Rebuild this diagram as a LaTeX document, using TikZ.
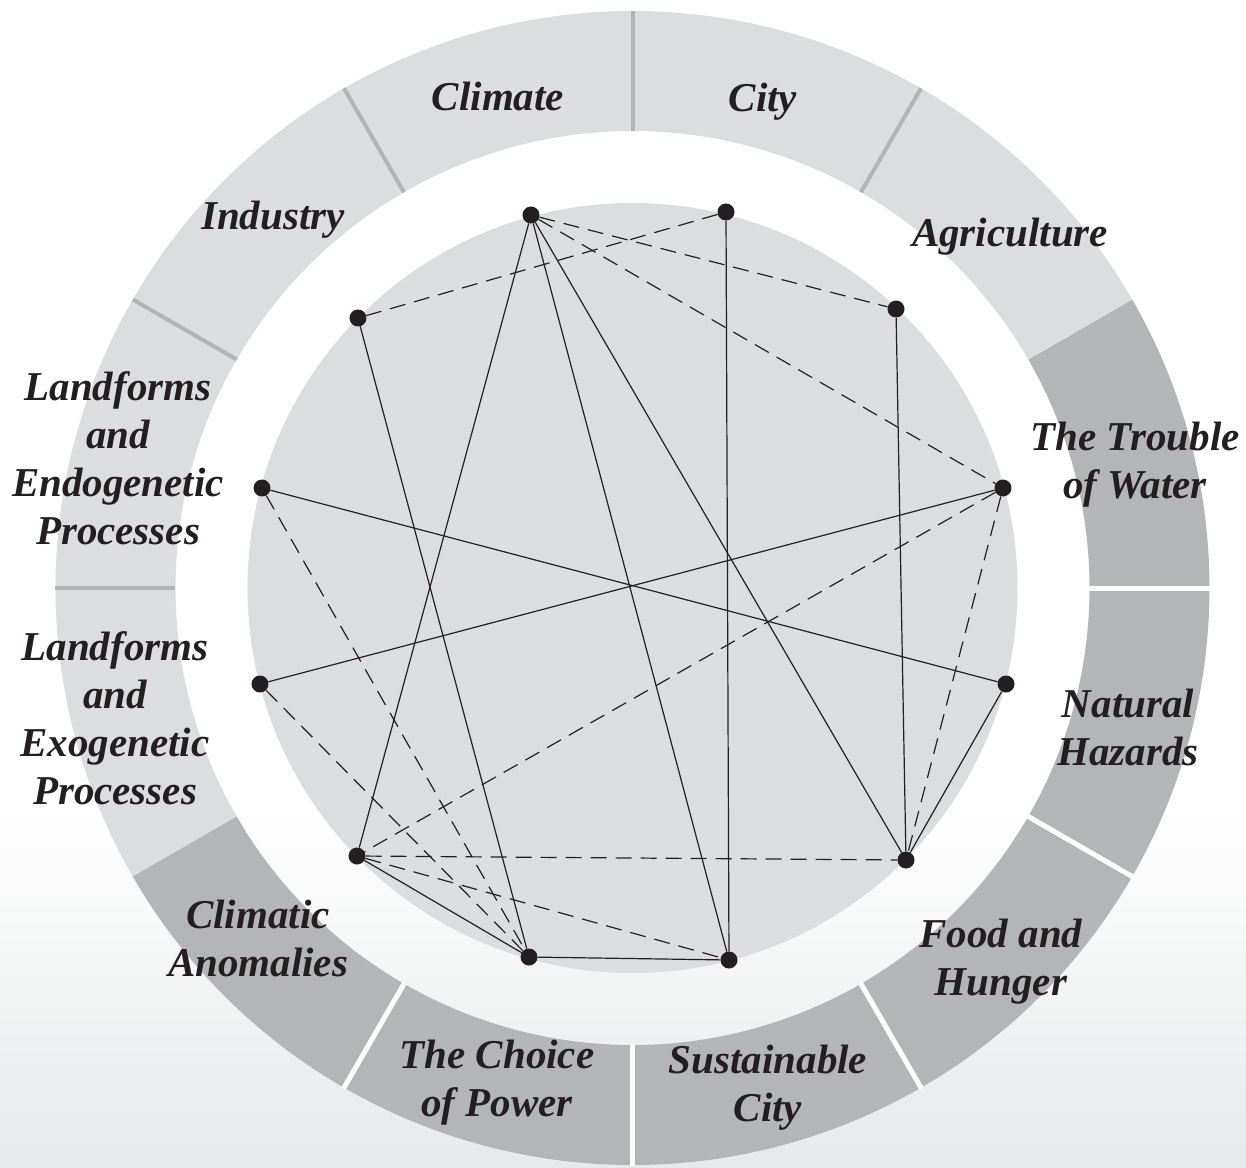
\documentclass[tikz,border=0pt]{standalone}
\usepackage{fontspec}
\setmainfont{Liberation Serif}
\definecolor{ringL}{HTML}{DCDDDF}
\definecolor{ringD}{HTML}{B4B5B7}
\definecolor{ringLine}{HTML}{B3B4B6}
\definecolor{ink}{HTML}{231F20}
\definecolor{bgLow}{HTML}{E7E8E9}

\begin{document}
\begin{tikzpicture}
  [x=1pt,y=1pt,
   dotN/.style={circle,fill=ink,inner sep=0pt,minimum size=17pt},
   topicN/.style={align=center,text=ink,inner sep=0pt,
     font=\fontsize{41}{48}\selectfont\bfseries\itshape},
   link/.style={draw=ink,line width=1.2pt},
   dlink/.style={link,dash pattern=on 16pt off 9pt}]

  \useasboundingbox (-632.5,-579) rectangle (613.5,588);
  \shade[top color=white,bottom color=bgLow] (-632.5,-579) rectangle (613.5,-220);

  % ring of topics
  \foreach \a/\c in {0/ringD,30/ringL,60/ringL,90/ringL,120/ringL,150/ringL,
                     180/ringL,210/ringD,240/ringD,270/ringD,300/ringD,330/ringD}
    \fill[\c] (\a:457pt) -- (\a:577pt) arc[start angle=\a,delta angle=30,radius=577pt]
      -- ({\a+30}:457pt) arc[start angle={\a+30},delta angle=-30,radius=457pt] -- cycle;
  \foreach \a in {60,90,120,150,180}
    \draw[ringLine,line width=4pt] (\a:457pt) -- (\a:577pt);
  \foreach \a in {0,240,270,300,330}
    \draw[white,line width=5pt] (\a:456pt) -- (\a:578pt);

  \fill[ringL] (0,0) circle[radius=385pt];

  % topic labels
  \node[topicN] (climL)  at (-134.5,492) {Climate};
  \node[topicN] (cityL)  at (130.5,486)  {City};
  \node[topicN] (agriL)  at (377.5,351)  {Agriculture};
  \node[topicN] (induL)  at (-359.5,368) {Industry};
  \node[topicN] (endoL)  at (-514.5,130) {Landforms\\and\\Endogenetic\\Processes};
  \node[topicN] (exoL)   at (-517.5,-130) {Landforms\\and\\Exogenetic\\Processes};
  \node[topicN] (waterL) at (502.5,123)  {The Trouble\\of Water};
  \node[topicN] (hazL)   at (495.5,-139) {Natural\\Hazards};
  \node[topicN] (foodL)  at (368.5,-374) {Food and\\Hunger};
  \node[topicN] (scityL) at (135.5,-500) {Sustainable\\City};
  \node[topicN] (powerL) at (-135.5,-495) {The Choice\\of Power};
  \node[topicN] (anomL)  at (-374.5,-350) {Climatic\\Anomalies};

  % points
  \foreach \n/\p in {clim/{-101.5,373},city/{93.5,376},agri/{263.5,279},
                     indu/{-274.5,270},endo/{-370.5,100},water/{370.5,100},
                     exo/{-372.5,-96},haz/{373.5,-96},anom/{-275.5,-268},
                     food/{273.5,-272},power/{-103.5,-369},scity/{96.5,-372}}
    \node[dotN] (\n) at (\p) {};

  % solid links
  \draw[link] (clim) -- (anom);
  \draw[link] (clim) -- (scity);
  \draw[link] (clim) -- (food);
  \draw[link] (city) -- (scity);
  \draw[link] (agri) -- (food);
  \draw[link] (indu) -- (power);
  \draw[link] (endo) -- (haz);
  \draw[link] (exo) -- (water);
  \draw[link] (haz) -- (food);
  \draw[link] (anom) -- (power);
  \draw[link] (power) -- (scity);

  % dashed links
  \draw[dlink] (clim) -- (agri);
  \draw[dlink] (clim) -- (water);
  \draw[dlink] (city) -- (indu);
  \draw[dlink] (endo) -- (power);
  \draw[dlink] (exo) -- (power);
  \draw[dlink] (water) -- (anom);
  \draw[dlink] (water) -- (food);
  \draw[dlink] (anom) -- (food);
  \draw[dlink] (anom) -- (scity);

\end{tikzpicture}
\end{document}
